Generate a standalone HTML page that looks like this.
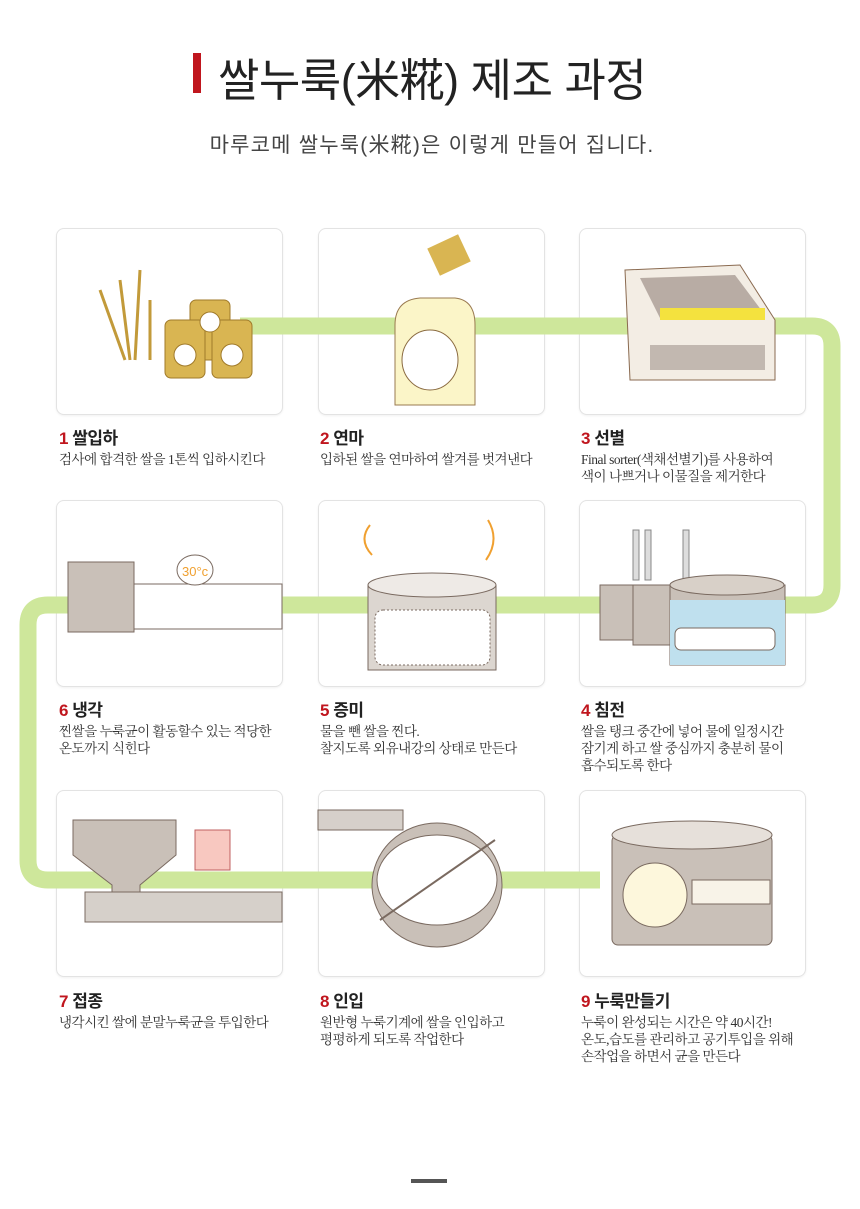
<!DOCTYPE html>
<html><head><meta charset="utf-8"><style>
body{margin:0;width:860px;height:1209px;background:#fff;position:relative;overflow:hidden;font-family:"Liberation Sans","Noto Sans CJK KR",sans-serif}
.card{position:absolute;width:225px;height:185px;border:1px solid #e3e3e3;border-radius:8px;box-shadow:0 1px 2px rgba(0,0,0,.06);background:#fff}
.lab{position:absolute;width:250px}
.lab h3{margin:0;font-size:17px;font-weight:bold;color:#222;letter-spacing:-0.5px;line-height:20px}
.lab h3 b{color:#c0161e}
.lab p{margin:2px 0 0;font-family:"Liberation Serif","Noto Serif CJK SC","Noto Sans CJK KR",serif;font-size:13.5px;line-height:17px;color:#333;letter-spacing:-0.5px}
svg{position:absolute;left:0;top:0}
</style></head><body>
<div style="position:absolute;left:193px;top:53px;width:8px;height:40px;background:#c0161e"></div>
<div style="position:absolute;left:218px;top:44px;font-size:45px;color:#222;letter-spacing:-0.5px">쌀누룩(米糀) 제조 과정</div>
<div style="position:absolute;left:0;width:860px;top:129px;text-align:center;font-size:21px;color:#444;letter-spacing:1.2px;padding-left:2px">마루코메 쌀누룩(米糀)은 이렇게 만들어 집니다.</div>

<div class="card" style="left:56px;top:228px"></div>
<div class="card" style="left:318px;top:228px"></div>
<div class="card" style="left:579px;top:228px"></div>
<div class="card" style="left:56px;top:500px"></div>
<div class="card" style="left:318px;top:500px"></div>
<div class="card" style="left:579px;top:500px"></div>
<div class="card" style="left:56px;top:790px"></div>
<div class="card" style="left:318px;top:790px"></div>
<div class="card" style="left:579px;top:790px"></div>

<svg width="860" height="1209">
<path d="M240 326 H812 Q832 326 832 346 V585 Q832 605 812 605 H48 Q28 605 28 625 V860 Q28 880 48 880 H600" fill="none" stroke="#cee79b" stroke-width="17"/>
<g stroke="#a07a2a" fill="#d9b552"><path d="M100 290 L125 360 M120 280 L130 360 M140 270 L135 360 M150 300 L150 360" fill="none" stroke="#c29a3a" stroke-width="3"/>
<rect x="190" y="300" width="40" height="60" rx="6"/><rect x="165" y="320" width="40" height="58" rx="6"/><rect x="212" y="320" width="40" height="58" rx="6"/>
<circle cx="210" cy="322" r="10" fill="#fff"/><circle cx="185" cy="355" r="11" fill="#fff"/><circle cx="232" cy="355" r="11" fill="#fff"/></g>
<path d="M395 325 Q395 300 420 298 H455 Q475 300 475 325 V405 H395Z" fill="#fbf5c8" stroke="#9a7a50"/>
<ellipse cx="430" cy="360" rx="28" ry="30" fill="#fff" stroke="#8a6a40"/>
<rect x="432" y="240" width="34" height="30" fill="#d9b552" transform="rotate(-25 449 255)"/>
<path d="M625 270 L740 265 L775 320 L775 380 L630 380 Z" fill="#f3ede4" stroke="#8a6a50"/>
<path d="M640 278 L735 275 L765 315 L660 318Z" fill="#b8aca4"/>
<rect x="660" y="308" width="105" height="12" fill="#f4e23e"/>
<rect x="650" y="345" width="115" height="25" fill="#c2b8b0"/>
<rect x="68" y="562" width="66" height="70" fill="#c9c0b8" stroke="#7a6a60"/>
<rect x="134" y="584" width="148" height="45" fill="#fff" stroke="#7a6a60"/>
<ellipse cx="195" cy="570" rx="18" ry="15" fill="#fff" stroke="#7a6a60"/>
<text x="182" y="576" font-size="13" fill="#f0a030" font-family="Liberation Sans">30°c</text>
<rect x="368" y="585" width="128" height="85" fill="#dcd6d0" stroke="#7a6a60"/>
<ellipse cx="432" cy="585" rx="64" ry="12" fill="#eeeae6" stroke="#7a6a60"/>
<rect x="375" y="610" width="115" height="55" rx="8" fill="#fff" stroke="#7a6a60" stroke-dasharray="2 2"/>
<path d="M370 525 Q358 540 372 555 M488 520 Q500 540 486 560" stroke="#f0a030" stroke-width="2" fill="none"/>
<rect x="633" y="530" width="6" height="50" fill="#ddd" stroke="#888"/><rect x="645" y="530" width="6" height="50" fill="#ddd" stroke="#888"/><rect x="683" y="530" width="6" height="50" fill="#ddd" stroke="#888"/>
<rect x="600" y="585" width="40" height="55" fill="#c9c0b8" stroke="#7a6a60"/>
<rect x="633" y="585" width="50" height="60" fill="#c9c0b8" stroke="#7a6a60"/>
<rect x="670" y="585" width="115" height="80" fill="#c9c0b8" stroke="#7a6a60"/>
<rect x="670" y="600" width="115" height="65" fill="#bfe0ee"/>
<ellipse cx="727" cy="585" rx="57" ry="10" fill="#d8d0c8" stroke="#7a6a60"/>
<rect x="675" y="628" width="100" height="22" rx="6" fill="#fff" stroke="#7a6a60"/>
<path d="M73 820 H176 V855 L140 885 V892 H112 V885 L73 855Z" fill="#c9c0b8" stroke="#7a6a60"/>
<rect x="85" y="892" width="197" height="30" fill="#d6d0ca" stroke="#7a6a60"/>
<rect x="195" y="830" width="35" height="40" fill="#f8c8c0" stroke="#c06060"/>
<rect x="318" y="810" width="85" height="20" fill="#d6d0ca" stroke="#7a6a60"/>
<ellipse cx="437" cy="885" rx="65" ry="62" fill="#c9c0b8" stroke="#7a6a60"/>
<ellipse cx="437" cy="880" rx="60" ry="45" fill="#fff" stroke="#7a6a60"/>
<line x1="380" y1="920" x2="495" y2="840" stroke="#7a6a60" stroke-width="2"/>
<rect x="612" y="835" width="160" height="110" rx="6" fill="#c9c0b8" stroke="#7a6a60"/>
<ellipse cx="692" cy="835" rx="80" ry="14" fill="#e6e0da" stroke="#7a6a60"/>
<circle cx="655" cy="895" r="32" fill="#fdf7dc" stroke="#7a6a60"/>
<rect x="692" y="880" width="78" height="24" fill="#f8f3e8" stroke="#7a6a60"/>
</svg>

<div class="lab" style="left:59px;top:429px"><h3><b>1</b> 쌀입하</h3><p>검사에 합격한 쌀을 1톤씩 입하시킨다</p></div>
<div class="lab" style="left:320px;top:429px"><h3><b>2</b> 연마</h3><p>입하된 쌀을 연마하여 쌀겨를 벗겨낸다</p></div>
<div class="lab" style="left:581px;top:429px"><h3><b>3</b> 선별</h3><p>Final sorter(색채선별기)를 사용하여<br>색이 나쁘거나 이물질을 제거한다</p></div>
<div class="lab" style="left:59px;top:701px"><h3><b>6</b> 냉각</h3><p>찐쌀을 누룩균이 활동할수 있는 적당한<br>온도까지 식힌다</p></div>
<div class="lab" style="left:320px;top:701px"><h3><b>5</b> 증미</h3><p>물을 뺀 쌀을 찐다.<br>찰지도록 외유내강의 상태로 만든다</p></div>
<div class="lab" style="left:581px;top:701px"><h3><b>4</b> 침전</h3><p>쌀을 탱크 중간에 넣어 물에 일정시간<br>잠기게 하고 쌀 중심까지 충분히 물이<br>흡수되도록 한다</p></div>
<div class="lab" style="left:59px;top:992px"><h3><b>7</b> 접종</h3><p>냉각시킨 쌀에 분말누룩균을 투입한다</p></div>
<div class="lab" style="left:320px;top:992px"><h3><b>8</b> 인입</h3><p>원반형 누룩기계에 쌀을 인입하고<br>평평하게 되도록 작업한다</p></div>
<div class="lab" style="left:581px;top:992px"><h3><b>9</b> 누룩만들기</h3><p>누룩이 완성되는 시간은 약 40시간!<br>온도,습도를 관리하고 공기투입을 위해<br>손작업을 하면서 균을 만든다</p></div>

<div style="position:absolute;left:411px;top:1179px;width:36px;height:4px;background:#555"></div>
</body></html>
